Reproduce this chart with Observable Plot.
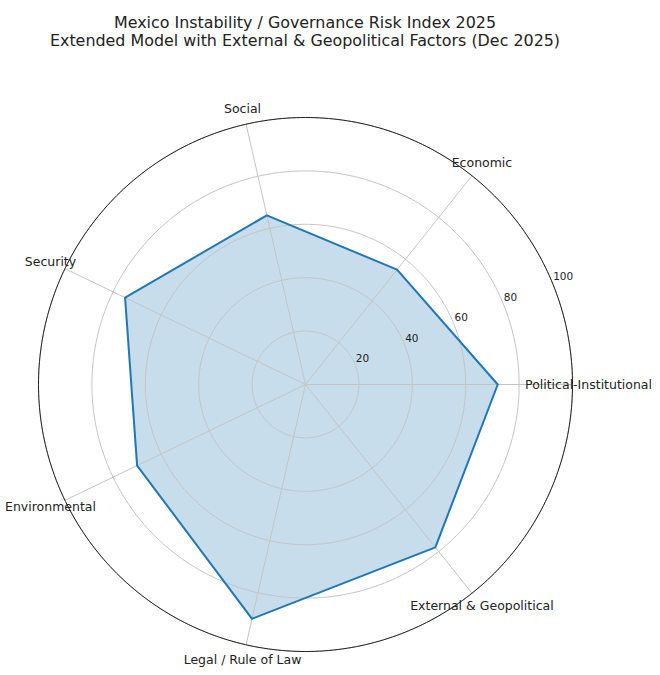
<!DOCTYPE html>
<html><head><meta charset="utf-8">
<script src="https://cdn.jsdelivr.net/npm/d3@7"></script>
<script src="https://cdn.jsdelivr.net/npm/@observablehq/plot@0.6"></script>
<style>
body{margin:0;background:#fff;font-family:"DejaVu Sans",sans-serif;}
#title{width:610px;height:56px;box-sizing:border-box;padding-top:13.5px;text-align:center;font-size:15.9px;line-height:18.4px;color:#222;white-space:nowrap;}
#chart svg{display:block;}
</style></head><body>
<div id="title">Mexico Instability / Governance Risk Index 2025<br>Extended Model with External &amp; Geopolitical Factors (Dec 2025)</div>
<div id="chart"></div>
<script>
const categories = ["Political-Institutional","Economic","Social","Security","Environmental","Legal / Rule of Law","External & Geopolitical"];
const values = [72, 55, 65, 75, 70, 90, 78];
const gridTicks = [20, 40, 60, 80, 100];
const rMax = 100;
const labelRadius = 106;
const rLabelAngle = 22.5;

const K = 0.5; // degrees of arc per unit of value
const n = categories.length;
const lon = i => 90 + i * 360 / n;
const lat = v => 90 - v * K;
const data = categories.map((c, i) => ({category: c, value: values[i], i}));
const circle = r => d3.geoCircle().center([0, 90]).radius(r * K).precision(1)();

const chart = Plot.plot({
  width: 660, height: 619,
  marginLeft: 38, marginRight: 88, marginTop: 61, marginBottom: 24,
  projection: {type: "azimuthal-equidistant", rotate: [0, -90], domain: circle(rMax), clip: false},
  style: {fontFamily: "DejaVu Sans, sans-serif", background: "#fff"},
  marks: [
    Plot.line(data, {x: d => lon(d.i), y: d => lat(d.value), curve: "linear-closed", fill: "#1f77b4", fillOpacity: 0.25, stroke: "none"}),
    Plot.geo(gridTicks, {geometry: circle, stroke: "#c4c4c4", strokeWidth: 1, fill: "none"}),
    Plot.link(data, {x1: d => lon(d.i), y1: lat(rMax), x2: d => lon(d.i), y2: 90, stroke: "#c4c4c4", strokeWidth: 1}),
    Plot.line(data, {x: d => lon(d.i), y: d => lat(d.value), curve: "linear-closed", stroke: "#1f77b4", strokeWidth: 2}),
    Plot.geo([rMax], {geometry: circle, stroke: "#222", strokeWidth: 1, fill: "none"}),
    Plot.text(gridTicks, {x: 90 + rLabelAngle, y: d => lat(d), text: d => String(d), textAnchor: "start", lineAnchor: "bottom", dx: 1, dy: -2, fontSize: 10.5, fill: "#222"}),
    Plot.text(data, {x: d => lon(d.i), y: lat(labelRadius), text: "category", fontSize: 12.5, fill: "#222"})
  ]
});
document.getElementById("chart").appendChild(chart);
</script>
</body></html>
